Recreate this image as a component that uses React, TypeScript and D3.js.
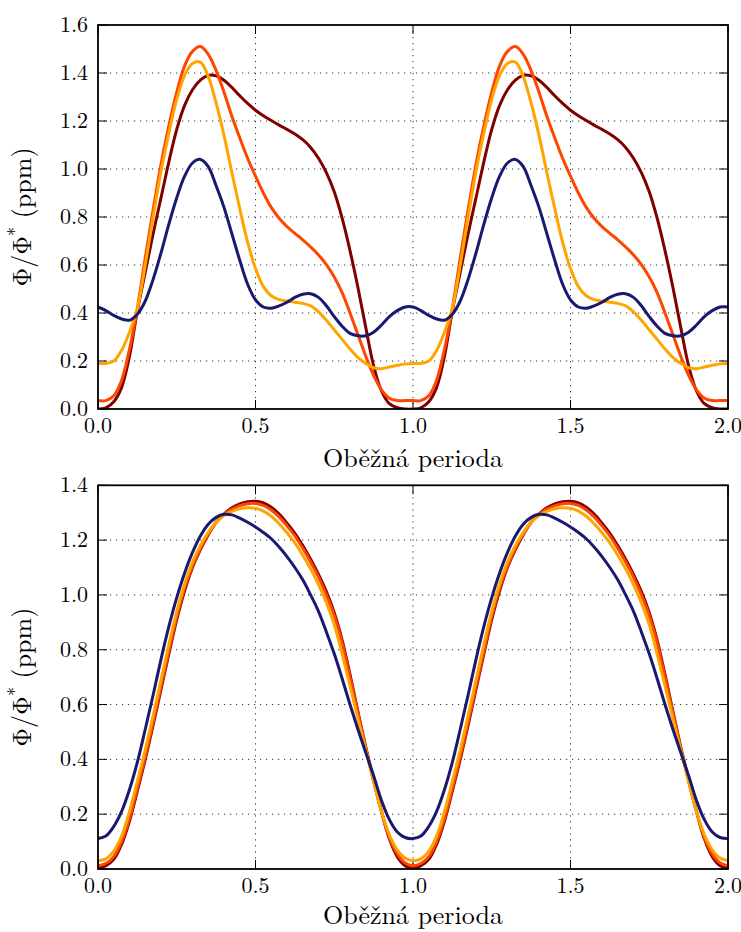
import React from "react";
import * as d3 from "d3";

// one orbital period sampled every 0.025 (phase 0 .. 1); drawn twice (0..2)
const phase = d3.range(0, 41).map((i) => i / 40);

// ---- top panel ----
const topMaroon = [0.0, 0.005, 0.03, 0.09, 0.22, 0.41, 0.57, 0.73, 0.88, 1.03, 1.165, 1.265, 1.33, 1.37, 1.39, 1.388, 1.37, 1.34, 1.305, 1.273, 1.245, 1.222, 1.202, 1.183, 1.165, 1.146, 1.122, 1.09, 1.045, 0.985, 0.905, 0.795, 0.66, 0.507, 0.34, 0.18, 0.075, 0.022, 0.005, 0.0, 0.0];
const topOrangeRed = [0.035, 0.035, 0.055, 0.12, 0.25, 0.42, 0.63, 0.83, 1.02, 1.18, 1.32, 1.43, 1.49, 1.51, 1.478, 1.41, 1.32, 1.22, 1.13, 1.045, 0.97, 0.90, 0.84, 0.795, 0.76, 0.732, 0.705, 0.675, 0.642, 0.602, 0.55, 0.485, 0.40, 0.31, 0.22, 0.14, 0.08, 0.045, 0.035, 0.035, 0.035];
const topOrange = [0.19, 0.19, 0.20, 0.245, 0.32, 0.42, 0.60, 0.80, 0.99, 1.15, 1.29, 1.39, 1.44, 1.445, 1.385, 1.275, 1.14, 0.985, 0.835, 0.695, 0.585, 0.51, 0.472, 0.456, 0.45, 0.445, 0.44, 0.43, 0.405, 0.37, 0.33, 0.29, 0.25, 0.215, 0.19, 0.172, 0.168, 0.175, 0.182, 0.188, 0.19];
const topNavy = [0.425, 0.41, 0.39, 0.375, 0.37, 0.395, 0.45, 0.54, 0.65, 0.77, 0.88, 0.97, 1.025, 1.04, 1.01, 0.93, 0.84, 0.73, 0.62, 0.52, 0.455, 0.425, 0.42, 0.43, 0.445, 0.465, 0.478, 0.48, 0.465, 0.43, 0.385, 0.345, 0.315, 0.305, 0.305, 0.32, 0.35, 0.385, 0.41, 0.425, 0.425];

// ---- bottom panel ----
const botMaroon = [0.003, 0.012, 0.035, 0.09, 0.175, 0.285, 0.40, 0.525, 0.655, 0.785, 0.91, 1.015, 1.10, 1.165, 1.22, 1.265, 1.295, 1.318, 1.332, 1.34, 1.342, 1.336, 1.32, 1.295, 1.262, 1.225, 1.18, 1.13, 1.075, 1.012, 0.935, 0.835, 0.71, 0.575, 0.445, 0.325, 0.21, 0.11, 0.045, 0.012, 0.003];
const botOrangeRed = [0.012, 0.02, 0.045, 0.10, 0.185, 0.295, 0.41, 0.535, 0.665, 0.795, 0.92, 1.025, 1.105, 1.17, 1.222, 1.265, 1.293, 1.313, 1.326, 1.333, 1.334, 1.327, 1.31, 1.285, 1.252, 1.215, 1.17, 1.12, 1.065, 1.0, 0.925, 0.825, 0.70, 0.57, 0.44, 0.32, 0.21, 0.115, 0.055, 0.022, 0.012];
const botOrange = [0.03, 0.037, 0.065, 0.12, 0.21, 0.32, 0.435, 0.56, 0.69, 0.82, 0.94, 1.04, 1.12, 1.18, 1.228, 1.265, 1.29, 1.305, 1.314, 1.318, 1.316, 1.306, 1.287, 1.26, 1.227, 1.19, 1.145, 1.095, 1.038, 0.972, 0.892, 0.785, 0.668, 0.55, 0.435, 0.32, 0.21, 0.125, 0.07, 0.04, 0.03];
const botNavy = [0.111, 0.12, 0.155, 0.21, 0.29, 0.39, 0.51, 0.635, 0.765, 0.885, 0.99, 1.08, 1.155, 1.215, 1.258, 1.283, 1.294, 1.292, 1.28, 1.265, 1.248, 1.228, 1.205, 1.175, 1.14, 1.10, 1.055, 1.0, 0.94, 0.865, 0.785, 0.695, 0.60, 0.51, 0.425, 0.34, 0.25, 0.18, 0.135, 0.115, 0.111];

const seriesColors = ["#800000", "#FF4500", "#FFA500", "#191970"];
const xTicks = [0, 0.5, 1.0, 1.5, 2.0];
const topYTicks = [0, 0.2, 0.4, 0.6, 0.8, 1.0, 1.2, 1.4, 1.6];
const botYTicks = [0, 0.2, 0.4, 0.6, 0.8, 1.0, 1.2, 1.4];
const xLabel = "Oběžná perioda";

const textStyle = { fontFamily: '"Latin Modern Roman", "Liberation Serif", serif' };

function twoOrbits(vals: number[]) {
  const pts: [number, number][] = [];
  for (let k = 0; k < 2; k++) {
    phase.forEach((p, i) => {
      if (k === 1 && i === 0) return;
      pts.push([k + p, vals[i]]);
    });
  }
  return pts;
}

type PanelProps = {
  id: string;
  top: number;
  bottom: number;
  yMax: number;
  yTicks: number[];
  series: number[][];
  labelGap: number;
};

const LEFT = 98;
const RIGHT = 728;

function Panel({ id, top, bottom, yMax, yTicks, series, labelGap }: PanelProps) {
  const x = d3.scaleLinear().domain([0, 2]).range([LEFT, RIGHT]);
  const y = d3.scaleLinear().domain([0, yMax]).range([bottom, top]);
  const line = d3
    .line<[number, number]>()
    .x((d) => x(d[0]))
    .y((d) => y(d[1]))
    .curve(d3.curveCatmullRom.alpha(0.5));
  const tick = 9;
  const midY = (top + bottom) / 2;
  return (
    <g>
      <defs>
        <clipPath id={id}>
          <rect x={LEFT} y={top} width={RIGHT - LEFT} height={bottom - top} />
        </clipPath>
      </defs>
      {/* grid */}
      {xTicks.slice(1, -1).map((t) => (
        <line key={"gx" + t} x1={x(t)} x2={x(t)} y1={top} y2={bottom} stroke="#000" strokeWidth={1} strokeDasharray="1.2 4.8" opacity={0.8} />
      ))}
      {yTicks.slice(1, -1).map((t) => (
        <line key={"gy" + t} x1={LEFT} x2={RIGHT} y1={y(t)} y2={y(t)} stroke="#000" strokeWidth={1} strokeDasharray="1.2 4.8" opacity={0.8} />
      ))}
      {/* ticks inward on all sides */}
      {xTicks.map((t) => (
        <g key={"tx" + t}>
          <line x1={x(t)} x2={x(t)} y1={bottom} y2={bottom - tick} stroke="#000" strokeWidth={1} />
          <line x1={x(t)} x2={x(t)} y1={top} y2={top + tick} stroke="#000" strokeWidth={1} />
        </g>
      ))}
      {yTicks.map((t) => (
        <g key={"ty" + t}>
          <line x1={LEFT} x2={LEFT + tick} y1={y(t)} y2={y(t)} stroke="#000" strokeWidth={1} />
          <line x1={RIGHT} x2={RIGHT - tick} y1={y(t)} y2={y(t)} stroke="#000" strokeWidth={1} />
        </g>
      ))}
      {/* curves */}
      <g clipPath={`url(#${id})`}>
        {series.map((vals, i) => (
          <path key={i} d={line(twoOrbits(vals)) || ""} fill="none" stroke={seriesColors[i]} strokeWidth={3} strokeLinejoin="round" />
        ))}
      </g>
      {/* frame */}
      <rect x={LEFT} y={top} width={RIGHT - LEFT} height={bottom - top} fill="none" stroke="#000" strokeWidth={1.8} />
      {/* tick labels */}
      {xTicks.map((t) => (
        <text key={"lx" + t} x={x(t)} y={bottom + 24} textAnchor="middle" style={textStyle} fontSize={22} fill="#000">
          {t.toFixed(1)}
        </text>
      ))}
      {yTicks.map((t) => (
        <text key={"ly" + t} x={LEFT - 10} y={y(t) + 7} textAnchor="end" style={textStyle} fontSize={22} fill="#000">
          {t.toFixed(1)}
        </text>
      ))}
      {/* axis labels */}
      <text x={(LEFT + RIGHT) / 2} y={bottom + labelGap} textAnchor="middle" style={textStyle} fontSize={26} fill="#000">
        {xLabel}
      </text>
      <text transform={`translate(31,${midY}) rotate(-90)`} textAnchor="middle" style={textStyle} fontSize={26} fill="#000">
        Φ/Φ<tspan fontSize={18} dy={-10}>*</tspan>
        <tspan dy={10}> (ppm)</tspan>
      </text>
    </g>
  );
}

export default function App() {
  return (
    <svg width={741} height={932} style={{ position: "absolute", left: 0, top: 0, background: "#fff" }}>
      <rect width={741} height={932} fill="#fff" />
      <Panel id="clipTop" top={25} bottom={409} yMax={1.6} yTicks={topYTicks} series={[topMaroon, topOrangeRed, topOrange, topNavy]} labelGap={58} />
      <Panel id="clipBot" top={485.3} bottom={869} yMax={1.4} yTicks={botYTicks} series={[botMaroon, botOrangeRed, botOrange, botNavy]} labelGap={55} />
    </svg>
  );
}
